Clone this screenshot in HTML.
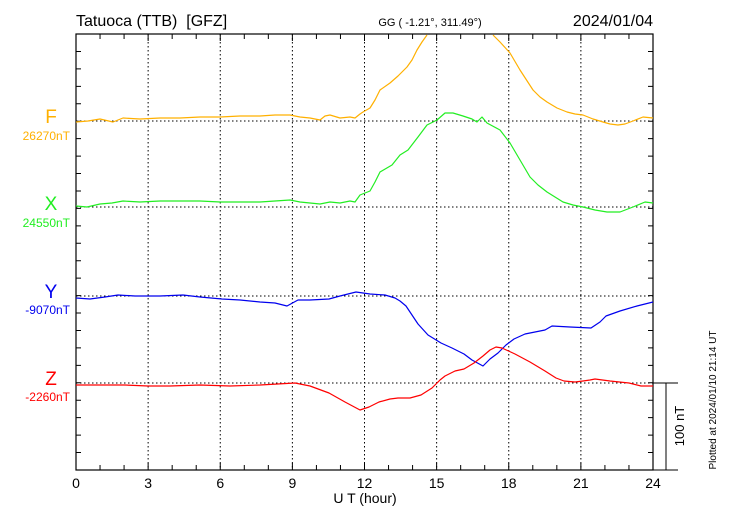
<!DOCTYPE html>
<html><head><meta charset="utf-8"><style>
html,body{margin:0;padding:0;background:#fff;}
svg{display:block;font-family:"Liberation Sans",sans-serif;}
</style></head><body>
<svg width="730" height="520" xmlns="http://www.w3.org/2000/svg">
<rect width="730" height="520" fill="#fff"/>
<g stroke="#000" stroke-width="1" stroke-dasharray="1.5,2.5">
<line x1="148.13" y1="34" x2="148.13" y2="470"/>
<line x1="220.25" y1="34" x2="220.25" y2="470"/>
<line x1="292.38" y1="34" x2="292.38" y2="470"/>
<line x1="364.5" y1="34" x2="364.5" y2="470"/>
<line x1="436.63" y1="34" x2="436.63" y2="470"/>
<line x1="508.75" y1="34" x2="508.75" y2="470"/>
<line x1="580.88" y1="34" x2="580.88" y2="470"/>
<line x1="76" y1="121" x2="653" y2="121"/>
<line x1="76" y1="207" x2="653" y2="207"/>
<line x1="76" y1="296" x2="653" y2="296"/>
<line x1="76" y1="383" x2="653" y2="383"/>
</g>
<rect x="76" y="34" width="577" height="436" fill="none" stroke="#000" stroke-width="1.2"/>
<line x1="653" y1="470" x2="678" y2="470" stroke="#000"/>
<line x1="653" y1="383" x2="678" y2="383" stroke="#000"/>
<line x1="666" y1="383" x2="666" y2="470" stroke="#000"/>
<path stroke="#000" stroke-width="1" fill="none" d="
M100.04,470v-5M124.08,470v-5M148.13,470v-7M172.17,470v-5M196.21,470v-5M220.25,470v-7M244.29,470v-5M268.33,470v-5M292.38,470v-7M316.42,470v-5M340.46,470v-5M364.5,470v-7M388.54,470v-5M412.58,470v-5M436.63,470v-7M460.67,470v-5M484.71,470v-5M508.75,470v-7M532.79,470v-5M556.83,470v-5M580.88,470v-7M604.92,470v-5M628.96,470v-5
M100.04,34v5M124.08,34v5M148.13,34v7M172.17,34v5M196.21,34v5M220.25,34v7M244.29,34v5M268.33,34v5M292.38,34v7M316.42,34v5M340.46,34v5M364.5,34v7M388.54,34v5M412.58,34v5M436.63,34v7M460.67,34v5M484.71,34v5M508.75,34v7M532.79,34v5M556.83,34v5M580.88,34v7M604.92,34v5M628.96,34v5
M76,452.56h5M76,435.12h5M76,417.68h5M76,400.24h5M76,382.8h5M76,365.36h5M76,347.92h5M76,330.48h5M76,313.04h5M76,295.6h5M76,278.16h5M76,260.72h5M76,243.28h5M76,225.84h5M76,208.4h5M76,190.96h5M76,173.52h5M76,156.08h5M76,138.64h5M76,121.2h5M76,103.76h5M76,86.32h5M76,68.88h5M76,51.44h5
M653,452.56h-5M653,435.12h-5M653,417.68h-5M653,400.24h-5M653,382.8h-5M653,365.36h-5M653,347.92h-5M653,330.48h-5M653,313.04h-5M653,295.6h-5M653,278.16h-5M653,260.72h-5M653,243.28h-5M653,225.84h-5M653,208.4h-5M653,190.96h-5M653,173.52h-5M653,156.08h-5M653,138.64h-5M653,121.2h-5M653,103.76h-5M653,86.32h-5M653,68.88h-5M653,51.44h-5"/>
<g fill="none" stroke-width="1.2" stroke-linejoin="round">
<polyline stroke="#ffb000" points="76,122 88,121 100,119 113,122 123,118 140,119 160,118 180,118 200,117 220,117 240,116 260,116 275,115 290,115 300,117 310,118 320,120 325,116 330,115 340,118 350,117 355,118 360,114 363,112 370,108 375,100 380,90 390,83 398,76 407,67 412,60 417,50 422,42 427,35"/>
<polyline stroke="#ffb000" points="493,35 500,42 510,53 520,70 533,90 540,97 547,102 557,108 567,112 575,114 583,115 593,119 603,122 610,124 618,125 625,124 633,121 643,117 653,118"/>
<polyline stroke="#22ee22" points="76,206 87,207 100,204 112,203 123,201 140,202 160,201 180,201 200,201 220,202 240,202 260,202 275,201 290,200 300,202 310,203 320,204 330,202 340,203 350,201 355,202 360,195 370,191 375,182 380,172 392,165 400,155 408,150 418,137 427,125 437,120 445,113 453,113 463,116 472,119 477,122 482,117 487,123 500,130 510,143 520,160 530,177 538,185 547,192 555,197 563,202 573,205 583,207 595,210 607,212 620,212 633,207 645,202 653,203"/>
<polyline stroke="#0000ee" points="76,298 90,299 105,297 118,295 135,296 160,296 183,295 200,297 222,299 240,300 260,302 275,303 287,306 298,300 310,300 329,299 340,296 356,292 370,294 385,295 395,298 400,301 406,306 412,315 418,324 428,335 441,343 452,348 464,354 472,360 483,366 490,359 498,353 506,345 514,339 525,334 545,330 552,326 570,327 591,328 600,322 606,316 620,311 637,306 653,302"/>
<polyline stroke="#ff0000" points="76,385 100,385 125,385 148,386 170,386 200,385 230,386 260,385 295,383 310,386 329,393 345,402 360,410 369,407 379,402 390,399 398,398 410,398 421,395 432,388 440,380 445,376 455,371 464,369 474,363 483,356 490,350 496,347 502,348 515,354 530,362 545,371 556,378 564,381 575,382 583,381 590,380 595,379 610,381 629,383 641,386 653,386"/>
</g>
<text x="76" y="26" font-size="16">Tatuoca (TTB)&#160;&#160;[GFZ]</text>
<text x="430" y="26" font-size="11" text-anchor="middle">GG ( -1.21°, 311.49°)</text>
<text x="653" y="26" font-size="16" text-anchor="end">2024/01/04</text>
<g font-size="19" text-anchor="middle">
<text x="51" y="123" fill="#ffb000">F</text>
<text x="51" y="210" fill="#22ee22">X</text>
<text x="51" y="298" fill="#0000ee">Y</text>
<text x="51" y="385" fill="#ff0000">Z</text>
</g>
<g font-size="12" text-anchor="end">
<text x="70" y="140" fill="#ffb000">26270nT</text>
<text x="70" y="227" fill="#22ee22">24550nT</text>
<text x="70" y="314" fill="#0000ee">-9070nT</text>
<text x="70" y="401" fill="#ff0000">-2260nT</text>
</g>
<g font-size="14" text-anchor="middle">
<text x="76" y="488">0</text><text x="148.13" y="488">3</text><text x="220.25" y="488">6</text>
<text x="292.38" y="488">9</text><text x="364.5" y="488">12</text><text x="436.63" y="488">15</text>
<text x="508.75" y="488">18</text><text x="580.88" y="488">21</text><text x="653" y="488">24</text>
</g>
<text x="365" y="503" font-size="14" text-anchor="middle">U T (hour)</text>
<text transform="translate(684,426) rotate(-90)" font-size="13" text-anchor="middle">100 nT</text>
<text transform="translate(716,400) rotate(-90)" font-size="10" text-anchor="middle">Plotted at 2024/01/10 21:14 UT</text>
</svg>
</body></html>
